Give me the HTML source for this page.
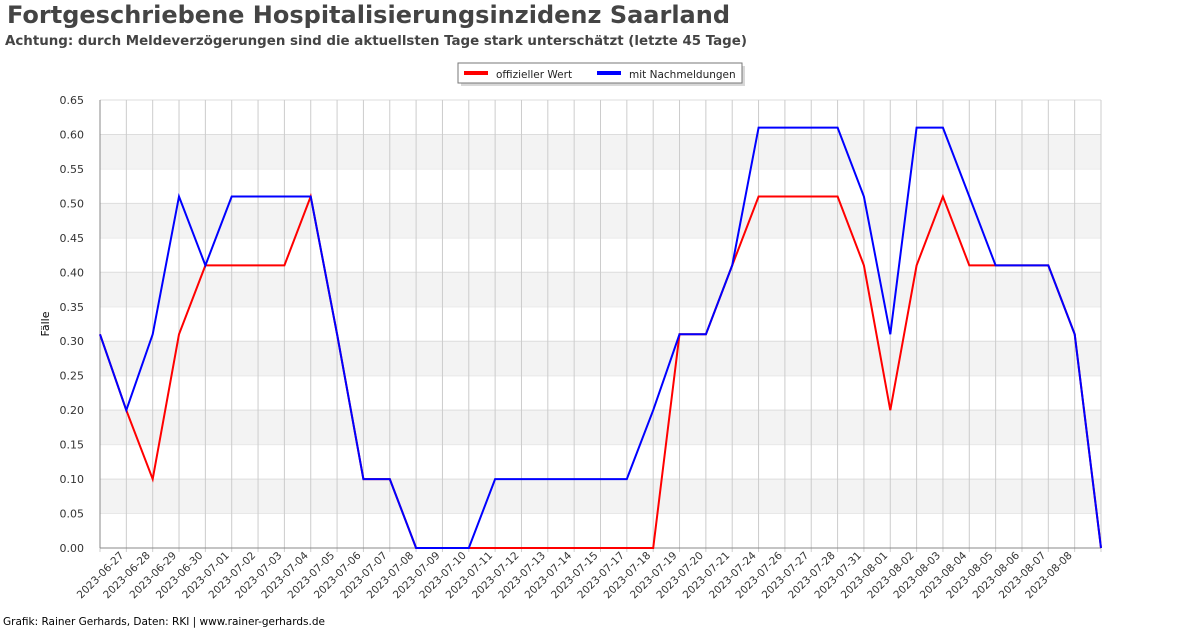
<!DOCTYPE html>
<html><head><meta charset="utf-8"><style>
body{margin:0;background:#fff;width:1200px;height:628px;overflow:hidden;font-family:"DejaVu Sans","Liberation Sans",sans-serif}
</style></head><body>
<svg id="s" width="1200" height="628" xmlns="http://www.w3.org/2000/svg" font-family="DejaVu Sans, Liberation Sans, sans-serif">
<text x="7" y="23" font-size="24" font-weight="bold" fill="#444">Fortgeschriebene Hospitalisierungsinzidenz Saarland</text>
<text x="5" y="45" font-size="13.4" font-weight="bold" fill="#444">Achtung: durch Meldeverzögerungen sind die aktuellsten Tage stark unterschätzt (letzte 45 Tage)</text>
<rect x="461" y="66" width="284" height="20" fill="#d8d8d8"/>
<rect x="458" y="63" width="284" height="20" fill="#fff" stroke="#777"/>
<rect x="464" y="71" width="24" height="4" fill="#f00"/>
<text x="496" y="78" font-size="10.5" fill="#222">offizieller Wert</text>
<rect x="597" y="71" width="24" height="4" fill="#00f"/>
<text x="629" y="78" font-size="10.5" fill="#222">mit Nachmeldungen</text>
<text transform="translate(49,324) rotate(-90)" text-anchor="middle" font-size="11" fill="#000">Fälle</text>
<text x="3" y="625" font-size="10.5" fill="#000">Grafik: Rainer Gerhards, Daten: RKI | www.rainer-gerhards.de</text>
<g id="g"></g>
</svg>
<script>
var g=document.getElementById('g'),h='';
var X0=100,X1=1101,Y0=548,Y1=100,n=39,dx=(X1-X0)/(n-1);
function y(v){return Y0-v/0.65*(Y0-Y1);}
for(var i=0;i<13;i++){var a=y(i*0.05),b=y((i+1)*0.05);if(i%2==1)h+='<rect x="'+X0+'" y="'+b+'" width="'+(X1-X0)+'" height="'+(a-b)+'" fill="#f3f3f3"/>';h+='<line x1="'+X0+'" x2="'+X1+'" y1="'+b+'" y2="'+b+'" stroke="#ddd"/>';}
for(var i=0;i<=13;i++){h+='<text x="84" y="'+(y(i*0.05)+4)+'" text-anchor="end" font-size="11" fill="#333">'+(i*0.05).toFixed(2)+'</text>';}
var L=['06-27','06-28','06-29','06-30'];for(var d=1;d<=15;d++)L.push('07-'+(d<10?'0':'')+d);
L=L.concat(['07-17','07-18','07-19','07-20','07-21','07-24','07-26','07-27','07-28','07-31','08-01','08-02','08-03','08-04','08-05','08-06','08-07','08-08']);
for(var i=0;i<n;i++){var x=X0+i*dx;h+='<line x1="'+x+'" x2="'+x+'" y1="'+Y1+'" y2="'+(Y0+4)+'" stroke="#ccc"/>';}
for(var i=0;i<L.length;i++){var x=X0+(i+1)*dx-2;h+='<text transform="translate('+x+',556) rotate(-45)" text-anchor="end" font-size="10.5" fill="#333">2023-'+L[i]+'</text>';}
h+='<line x1="'+X0+'" x2="'+X0+'" y1="'+Y1+'" y2="'+Y0+'" stroke="#888"/><line x1="'+X0+'" x2="'+X1+'" y1="'+Y0+'" y2="'+Y0+'" stroke="#888"/>';
var R=[.31,.2,.1,.31,.41,.41,.41,.41,.51,.31,.1,.1,0,0,0,0,0,0,0,0,0,0,.31,.31,.41,.51,.51,.51,.51,.41,.2,.41,.51,.41,.41,.41,.41,.31,0];
var B=[.31,.2,.31,.51,.41,.51,.51,.51,.51,.31,.1,.1,0,0,0,.1,.1,.1,.1,.1,.1,.2,.31,.31,.41,.61,.61,.61,.61,.51,.31,.61,.61,.51,.41,.41,.41,.31,0];
function p(a,c){var s='';for(var i=0;i<n;i++)s+=(X0+i*dx).toFixed(1)+','+y(a[i]).toFixed(1)+' ';return '<polyline points="'+s+'" fill="none" stroke="'+c+'" stroke-width="2"/>';}
h+=p(R,'#f00')+p(B,'#00f');
g.innerHTML=h;
</script>
</body></html>
